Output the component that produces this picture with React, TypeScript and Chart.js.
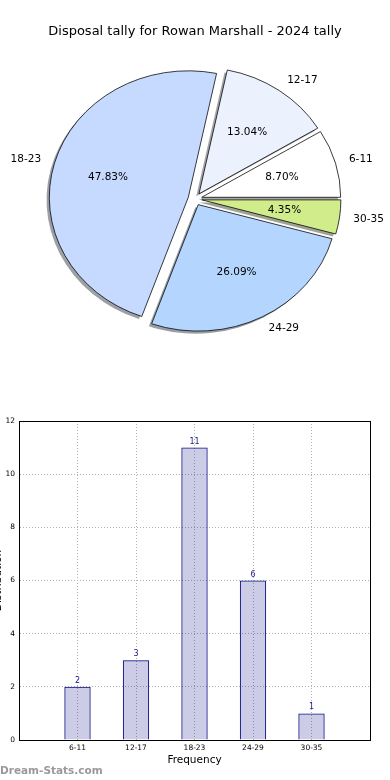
import React, { useEffect, useRef } from 'react';
import { Chart, registerables } from 'chart.js';

Chart.register(...registerables);
Chart.defaults.font.family = 'DejaVu Sans';

const TITLE = 'Disposal tally for Rowan Marshall - 2024 tally';
const CATEGORIES = ['6-11', '12-17', '18-23', '24-29', '30-35'];
const COUNTS = [2, 3, 11, 6, 1];
const PIE_COLORS = ['#ffffff', '#ebf2fe', '#c6d9ff', '#b4d6fe', '#d1ec8b'];
const Y_MAX = 12;
const Y_STEP = 2;
const X_TITLE = 'Frequency';
const Y_TITLE = 'Distribution';
const WATERMARK = 'Dream-Stats.com';

// pie draws clockwise from east; reference runs counter-clockwise from east
const PIE_LABELS = [...CATEGORIES].reverse();
const PIE_VALUES = [...COUNTS].reverse();
const PIE_FILLS = [...PIE_COLORS].reverse();
const TOTAL = COUNTS.reduce((a, b) => a + b, 0);

const SY = 0.91;
const EXPLODE = 0.05;
const SHADOW = 0.02;

function shadowColor(hex: string) {
  const n = parseInt(hex.slice(1), 16);
  const r = Math.round(((n >> 16) & 255) * 0.3);
  const g = Math.round(((n >> 8) & 255) * 0.3);
  const b = Math.round((n & 255) * 0.3);
  return `rgba(${r},${g},${b},0.5)`;
}

const pieDecor = {
  id: 'pieDecor',
  beforeDatasetsDraw(chart: any) {
    const ctx = chart.ctx;
    const arcs = chart.getDatasetMeta(0).data as any[];
    if (!arcs.length) return;
    const cx = arcs[0].x;
    const cy = arcs[0].y;
    ctx.save();
    ctx.translate(cx, cy);
    ctx.scale(1, SY);
    ctx.translate(-cx, -cy);
    arcs.forEach((arc, i) => {
      const mid = (arc.startAngle + arc.endAngle) / 2;
      const R = arc.outerRadius;
      const ox = arc.x + Math.cos(mid) * EXPLODE * R - SHADOW * R;
      const oy = arc.y + Math.sin(mid) * EXPLODE * R + SHADOW * R;
      ctx.beginPath();
      ctx.moveTo(ox, oy);
      ctx.arc(ox, oy, R, arc.startAngle, arc.endAngle);
      ctx.closePath();
      ctx.fillStyle = shadowColor(PIE_FILLS[i]);
      ctx.fill();
    });
    arcs.forEach((arc) => {
      const mid = (arc.startAngle + arc.endAngle) / 2;
      const R = arc.outerRadius;
      ctx.save();
      ctx.translate(Math.cos(mid) * EXPLODE * R, Math.sin(mid) * EXPLODE * R);
      arc.draw(ctx);
      ctx.restore();
    });
    ctx.restore();
    return false;
  },
  afterDraw(chart: any) {
    const ctx = chart.ctx;
    const arcs = chart.getDatasetMeta(0).data as any[];
    if (!arcs.length) return;
    const cy = arcs[0].y;
    ctx.save();
    ctx.fillStyle = '#000';
    ctx.font = '10.5px "DejaVu Sans"';
    ctx.textBaseline = 'middle';
    arcs.forEach((arc, i) => {
      const mid = (arc.startAngle + arc.endAngle) / 2;
      const R = arc.outerRadius;
      const ex = arc.x + Math.cos(mid) * EXPLODE * R;
      const ey = arc.y + Math.sin(mid) * EXPLODE * R;
      const toY = (y: number) => cy + (y - cy) * SY;
      const lx = ex + Math.cos(mid) * 1.1 * R;
      const ly = ey + Math.sin(mid) * 1.1 * R;
      ctx.textAlign = Math.cos(mid) > 0 ? 'left' : 'right';
      ctx.fillText(PIE_LABELS[i], lx, toY(ly));
      const px = ex + Math.cos(mid) * 0.6 * R;
      const py = ey + Math.sin(mid) * 0.6 * R;
      ctx.textAlign = 'center';
      const pct = ((PIE_VALUES[i] / TOTAL) * 100).toFixed(2) + '%';
      ctx.fillText(pct, px, toY(py));
    });
    ctx.restore();
  },
};

const barDecor = {
  id: 'barDecor',
  afterDatasetsDraw(chart: any) {
    const ctx = chart.ctx;
    const { left, top, right, bottom } = chart.chartArea;
    ctx.save();
    ctx.strokeStyle = '#000';
    ctx.lineWidth = 1;
    ctx.strokeRect(Math.round(left) + 0.5, Math.round(top) + 0.5, Math.round(right - left), Math.round(bottom - top));
    const bars = chart.getDatasetMeta(0).data as any[];
    ctx.fillStyle = '#1a1a8c';
    ctx.font = '8px "DejaVu Sans"';
    ctx.textAlign = 'center';
    ctx.textBaseline = 'bottom';
    bars.forEach((b, i) => {
      ctx.fillText(String(COUNTS[i]), b.x, b.y - 2);
    });
    // clipped y-axis title at the very left edge
    ctx.translate(1, (top + bottom) / 2);
    ctx.rotate(-Math.PI / 2);
    ctx.fillStyle = '#000';
    ctx.font = '10.5px "DejaVu Sans"';
    ctx.textAlign = 'center';
    ctx.textBaseline = 'alphabetic';
    ctx.fillText(Y_TITLE, 0, 0);
    ctx.restore();
  },
};

export default function App() {
  const pieRef = useRef<HTMLCanvasElement>(null);
  const barRef = useRef<HTMLCanvasElement>(null);

  useEffect(() => {
    const pie = new Chart(pieRef.current as HTMLCanvasElement, {
      type: 'pie',
      data: {
        labels: PIE_LABELS,
        datasets: [
          {
            data: PIE_VALUES,
            backgroundColor: PIE_FILLS,
            borderColor: '#000',
            borderWidth: 0.8,
          },
        ],
      },
      options: {
        animation: false,
        responsive: false,
        events: [],
        rotation: 90,
        radius: 139,
        layout: { padding: 0 },
        plugins: {
          legend: { display: false },
          tooltip: { enabled: false },
          title: {
            display: true,
            text: TITLE,
            color: '#000',
            font: { family: 'DejaVu Sans', size: 13, weight: 'normal' },
            padding: { top: 24, bottom: 10.4 },
          },
        },
      } as any,
      plugins: [pieDecor as any],
    });

    const tickFont = { family: 'DejaVu Sans', size: 7.5 };
    const bar = new Chart(barRef.current as HTMLCanvasElement, {
      type: 'bar',
      data: {
        datasets: [
          {
            data: CATEGORIES.map((c, i) => ({ x: i + 1, y: COUNTS[i] })),
            backgroundColor: 'rgba(0,0,128,0.2)',
            borderColor: '#000080',
            borderWidth: 1,
            barPercentage: 0.45,
            categoryPercentage: 1,
          },
        ],
      },
      options: {
        animation: false,
        responsive: false,
        events: [],
        layout: { padding: { top: 21, right: 20, left: 0, bottom: 0 } },
        plugins: { legend: { display: false }, tooltip: { enabled: false } },
        scales: {
          x: {
            type: 'linear',
            min: 0,
            max: CATEGORIES.length + 1,
            offset: false,
            ticks: {
              stepSize: 1,
              autoSkip: false,
              maxRotation: 0,
              padding: 4,
              color: '#000',
              font: tickFont,
              callback: (v: any) => CATEGORIES[Number(v) - 1] ?? '',
            },
            grid: { offset: false, color: '#b0b0b0', drawTicks: false, lineWidth: 1 },
            border: { display: true, color: '#000', dash: [1, 2] },
            title: {
              display: true,
              text: X_TITLE,
              color: '#000',
              font: { family: 'DejaVu Sans', size: 10.5 },
              padding: { top: 0, bottom: 8 },
            },
            afterFit: (s: any) => {
              s.height = 35;
            },
          },
          y: {
            min: 0,
            max: Y_MAX,
            ticks: { stepSize: Y_STEP, padding: 4, color: '#000', font: tickFont },
            grid: { color: '#b0b0b0', drawTicks: false, lineWidth: 1 },
            border: { display: true, color: '#000', dash: [1, 2] },
            afterFit: (s: any) => {
              s.width = 19;
            },
          },
        },
      } as any,
      plugins: [barDecor as any],
    });

    return () => {
      pie.destroy();
      bar.destroy();
    };
  }, []);

  return (
    <div style={{ position: 'absolute', left: 0, top: 0, width: 390, height: 780, background: '#fff', overflow: 'hidden' }}>
      <canvas ref={pieRef} width={390} height={348} style={{ position: 'absolute', left: 0, top: 0, width: 390, height: 348 }} />
      <canvas ref={barRef} width={390} height={375} style={{ position: 'absolute', left: 0, top: 400, width: 390, height: 375 }} />
      <div
        style={{
          position: 'absolute',
          left: 0,
          top: 764,
          fontFamily: '"DejaVu Sans"',
          fontWeight: 'bold',
          fontSize: '10.5px',
          lineHeight: '12px',
          color: '#999',
          whiteSpace: 'nowrap',
        }}
      >
        {WATERMARK}
      </div>
    </div>
  );
}
